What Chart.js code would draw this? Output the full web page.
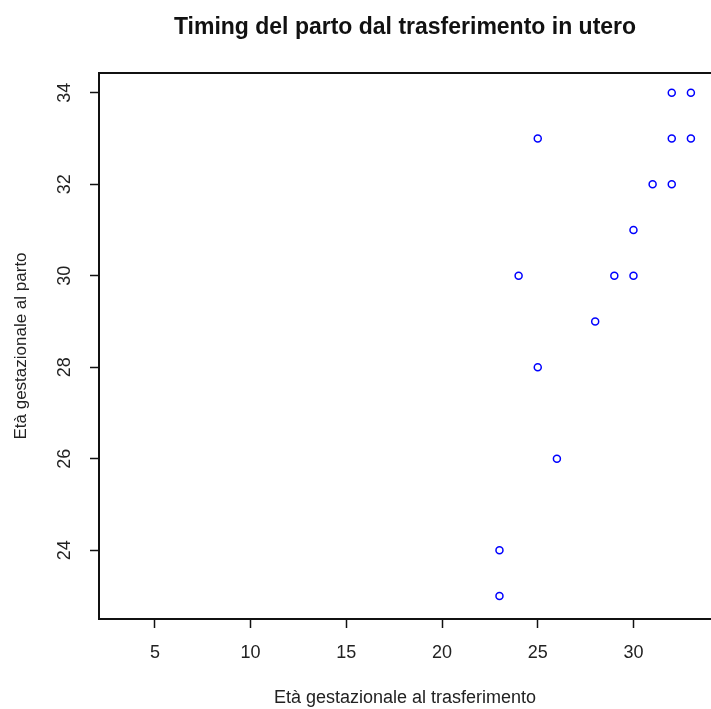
<!DOCTYPE html>
<html>
<head>
<meta charset="utf-8">
<script src="https://cdn.jsdelivr.net/npm/chart.js@4/dist/chart.umd.min.js"></script>
<style>
  html, body { margin: 0; padding: 0; background: #fff; overflow: hidden; }
  canvas { display: block; }
</style>
</head>
<body>
<canvas id="graficoParto" width="711" height="709"></canvas>
<script>
// dati
const etaTrasferimento = [23, 23, 24, 25, 25, 26, 28, 29, 30, 30, 31, 32, 32, 32, 33, 33];
const etaParto         = [24, 23, 30, 33, 28, 26, 29, 30, 30, 31, 32, 32, 33, 34, 34, 33];
const tickX = [5, 10, 15, 20, 25, 30];
const tickY = [24, 26, 28, 30, 32, 34];

const titolo = 'Timing del parto dal trasferimento in utero';
const titoloX = 'Età gestazionale al trasferimento';
const titoloY = 'Età gestazionale al parto';

const X_MIN = 2.08, X_MAX = 34.05;
const Y_MIN = 22.5, Y_MAX = 34.43;

const fontBase = "'Liberation Sans', Arial, sans-serif";
const coloreTesto = '#222';

let punti = etaTrasferimento.map((x, i) => ({ x: x, y: etaParto[i] }));

const ctx = document.getElementById('graficoParto').getContext('2d');

// nota: chart.js conta due volte ticks.padding nella misura dell'asse
new Chart(ctx, {
    type: 'scatter',
    data: {
        datasets: [{
            label: 'parto',
            data: punti,
            pointStyle: 'circle',
            pointRadius: 3.5,
            pointHoverRadius: 3.5,
            pointBorderWidth: 1.5,
            pointBorderColor: '#0000ff',
            pointBackgroundColor: 'rgba(0,0,0,0)',
            showLine: false
        }]
    },
    options: {
        responsive: false,
        animation: false,
        layout: { padding: 0, autoPadding: false },
        plugins: {
            legend: { display: false },
            tooltip: { enabled: false },
            title: { display: false }
        },
        scales: {
            x: {
                type: 'linear',
                position: 'bottom',
                min: X_MIN,
                max: X_MAX,
                afterBuildTicks: function (scale) {
                    scale.ticks = tickX.map(v => ({ value: v }));
                },
                ticks: {
                    padding: 14,
                    color: coloreTesto,
                    font: { family: fontBase, size: 18 },
                    maxRotation: 0,
                    autoSkip: false
                },
                grid: {
                    drawOnChartArea: false,
                    drawTicks: true,
                    tickLength: 9,
                    tickWidth: 1.5,
                    tickColor: '#111'
                },
                border: { display: true, color: '#111', width: 2 },
                title: {
                    display: true,
                    text: titoloX,
                    color: coloreTesto,
                    font: { family: fontBase, size: 18 },
                    padding: { top: 9.8, bottom: 0 }
                }
            },
            // asse superiore: solo bordo del riquadro e titolo principale
            x2: {
                type: 'linear',
                position: 'top',
                min: X_MIN,
                max: X_MAX,
                ticks: { display: false },
                grid: { display: false, drawTicks: false },
                border: { display: true, color: '#111', width: 2 },
                title: {
                    display: true,
                    text: titolo,
                    color: '#111',
                    font: { family: fontBase, size: 23, weight: 'bold' },
                    padding: { top: 14, bottom: 31.4 }
                }
            },
            y: {
                type: 'linear',
                position: 'left',
                min: Y_MIN,
                max: Y_MAX,
                afterBuildTicks: function (scale) {
                    scale.ticks = tickY.map(v => ({ value: v }));
                },
                ticks: {
                    padding: 15,
                    color: coloreTesto,
                    font: { family: fontBase, size: 18 },
                    minRotation: 90,
                    maxRotation: 90,
                    crossAlign: 'center',
                    autoSkip: false
                },
                grid: {
                    drawOnChartArea: false,
                    drawTicks: true,
                    tickLength: 9,
                    tickWidth: 1.5,
                    tickColor: '#111'
                },
                border: { display: true, color: '#111', width: 2 },
                title: {
                    display: true,
                    text: titoloY,
                    color: coloreTesto,
                    font: { family: fontBase, size: 17 },
                    padding: { top: 10.8, bottom: 7.2 }
                }
            }
        }
    }
});
</script>
</body>
</html>
